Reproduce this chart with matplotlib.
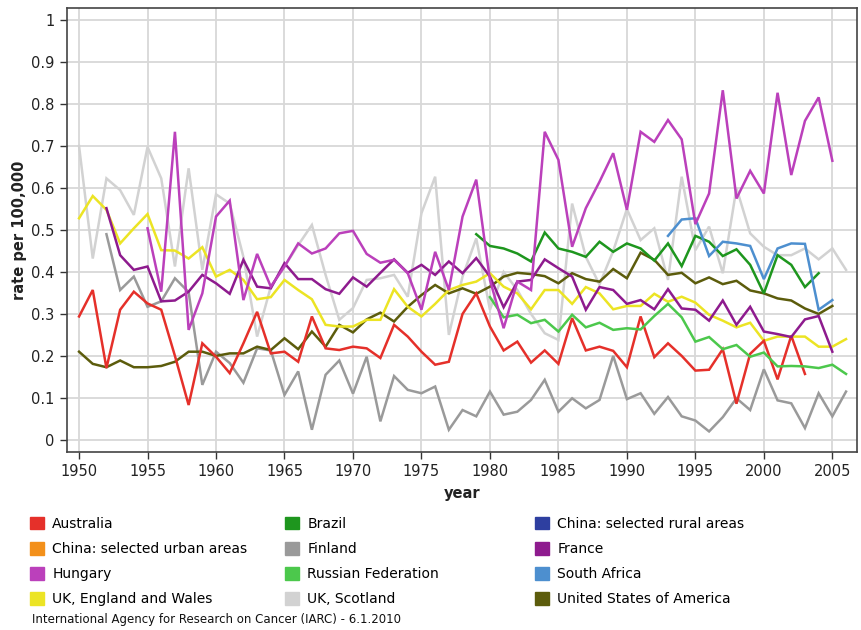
import numpy as np
import matplotlib
matplotlib.use('Agg')  # no display
import matplotlib.pyplot as plt
from matplotlib.patches import Patch

# rate per 100,000 by year
years_australia = np.arange(1950, 2004)
australia = [0.294, 0.357, 0.171, 0.31, 0.353, 0.325, 0.31, 0.20, 0.083, 0.23,
             0.198, 0.159, 0.23, 0.305, 0.206, 0.21, 0.186, 0.294, 0.218, 0.214,
             0.222, 0.218, 0.195, 0.274, 0.246, 0.21, 0.179, 0.186, 0.30, 0.349,
             0.27, 0.213, 0.234, 0.184, 0.213, 0.181, 0.29, 0.213, 0.222, 0.212,
             0.173, 0.294, 0.197, 0.23, 0.2, 0.165, 0.167, 0.216, 0.086, 0.205,
             0.236, 0.144, 0.248, 0.157]

years_brazil = np.arange(1979, 2005)
brazil = [0.49, 0.462, 0.456, 0.444, 0.425, 0.494, 0.456, 0.448, 0.436, 0.472,
          0.448, 0.468, 0.456, 0.427, 0.468, 0.414, 0.486, 0.472, 0.438, 0.454,
          0.417, 0.349, 0.44, 0.417, 0.364, 0.397]

years_finland = np.arange(1952, 2007)
finland = [0.49, 0.357, 0.389, 0.317, 0.33, 0.385, 0.352, 0.131,
           0.21, 0.183, 0.136, 0.218, 0.213, 0.107, 0.163, 0.024, 0.155, 0.189,
           0.11, 0.198, 0.044, 0.152, 0.119, 0.111, 0.127, 0.024, 0.071, 0.056,
           0.115, 0.06, 0.067, 0.095, 0.143, 0.067, 0.099, 0.075, 0.095, 0.2,
           0.097, 0.111, 0.062, 0.102, 0.056, 0.046, 0.02, 0.054, 0.099, 0.071,
           0.168, 0.094, 0.087, 0.028, 0.111, 0.056, 0.115]

years_france = np.arange(1952, 2006)
france = [0.552, 0.44, 0.405, 0.413, 0.33, 0.332, 0.353, 0.393,
          0.373, 0.348, 0.429, 0.365, 0.361, 0.421, 0.383, 0.383, 0.359, 0.348,
          0.387, 0.365, 0.398, 0.43, 0.398, 0.417, 0.393, 0.425, 0.397, 0.433,
          0.389, 0.316, 0.377, 0.381, 0.43, 0.409, 0.389, 0.31, 0.364, 0.357,
          0.324, 0.333, 0.311, 0.359, 0.313, 0.31, 0.284, 0.332, 0.274, 0.317,
          0.258, 0.252, 0.245, 0.287, 0.295, 0.21]

years_hungary = np.arange(1955, 2006)
hungary = [0.504, 0.353, 0.734, 0.262, 0.349,
           0.532, 0.57, 0.333, 0.443, 0.365, 0.413, 0.468, 0.444, 0.456, 0.492,
           0.498, 0.443, 0.422, 0.429, 0.397, 0.31, 0.448, 0.357, 0.532, 0.62,
           0.381, 0.266, 0.377, 0.357, 0.734, 0.667, 0.46, 0.552, 0.615, 0.683,
           0.548, 0.734, 0.71, 0.762, 0.716, 0.514, 0.587, 0.833, 0.575, 0.641,
           0.587, 0.827, 0.631, 0.76, 0.816, 0.665]

years_russia = np.arange(1980, 2007)
russia = [0.34, 0.292, 0.298, 0.278, 0.286, 0.258, 0.298, 0.268, 0.279, 0.262,
          0.266, 0.263, 0.295, 0.324, 0.292, 0.234, 0.245, 0.216, 0.226, 0.198,
          0.208, 0.175, 0.176, 0.175, 0.171, 0.179, 0.157]

years_south_africa = np.arange(1993, 2006)
south_africa = [0.486, 0.525, 0.528, 0.438, 0.472, 0.468, 0.462,
                0.383, 0.456, 0.468, 0.467, 0.31, 0.333]

years_uk = np.arange(1950, 2007)
uk_england_wales = [0.528, 0.581, 0.548, 0.468, 0.504, 0.538, 0.452, 0.451, 0.432, 0.459,
                    0.389, 0.405, 0.381, 0.335, 0.34, 0.381, 0.357, 0.335, 0.274, 0.27,
                    0.27, 0.286, 0.286, 0.359, 0.317, 0.294, 0.324, 0.357, 0.369, 0.377,
                    0.397, 0.365, 0.349, 0.311, 0.357, 0.357, 0.324, 0.364, 0.349, 0.311,
                    0.319, 0.319, 0.348, 0.329, 0.341, 0.327, 0.298, 0.284, 0.268, 0.279,
                    0.236, 0.246, 0.246, 0.246, 0.222, 0.222, 0.24]
uk_scotland = [0.70, 0.432, 0.623, 0.595, 0.536, 0.698, 0.623, 0.413, 0.647, 0.405,
               0.585, 0.563, 0.436, 0.246, 0.365, 0.413, 0.464, 0.512, 0.393, 0.286,
               0.314, 0.381, 0.385, 0.393, 0.341, 0.54, 0.627, 0.25, 0.389, 0.48,
               0.31, 0.40, 0.357, 0.30, 0.254, 0.238, 0.563, 0.436, 0.37, 0.45,
               0.55, 0.476, 0.504, 0.381, 0.627, 0.452, 0.508, 0.397, 0.6, 0.492,
               0.46, 0.44, 0.44, 0.456, 0.43, 0.456, 0.405]

years_usa = np.arange(1950, 2006)
usa = [0.21, 0.181, 0.173, 0.189, 0.173, 0.173, 0.176, 0.186, 0.21, 0.21,
       0.2, 0.206, 0.206, 0.222, 0.214, 0.242, 0.216, 0.258, 0.222, 0.274,
       0.256, 0.287, 0.303, 0.282, 0.317, 0.345, 0.369, 0.349, 0.361, 0.348,
       0.365, 0.389, 0.398, 0.395, 0.39, 0.373, 0.397, 0.383, 0.377, 0.407,
       0.385, 0.446, 0.429, 0.393, 0.398, 0.373, 0.387, 0.371, 0.379, 0.356,
       0.349, 0.337, 0.332, 0.313, 0.3, 0.319]

countries = ['Australia', 'Brazil', 'China: selected rural areas',
             'China: selected urban areas', 'Finland', 'France',
             'Hungary', 'Russian Federation', 'South Africa',
             'UK, England and Wales', 'UK, Scotland', 'United States of America']
colors = {
    'Australia': '#e5302a',
    'Brazil': '#1e961e',
    'China: selected rural areas': '#2e3fa0',
    'China: selected urban areas': '#f3901a',
    'Finland': '#9a9a9a',
    'France': '#8e1b8e',
    'Hungary': '#bb40bb',
    'Russian Federation': '#4cc84c',
    'South Africa': '#4d8fcf',
    'UK, England and Wales': '#ece424',
    'UK, Scotland': '#d2d2d2',
    'United States of America': '#5c5c0c',
}

series = [
    ('UK, Scotland', years_uk, uk_scotland),
    ('Finland', years_finland, finland),
    ('United States of America', years_usa, usa),
    ('UK, England and Wales', years_uk, uk_england_wales),
    ('Australia', years_australia, australia),
    ('Russian Federation', years_russia, russia),
    ('France', years_france, france),
    ('Brazil', years_brazil, brazil),
    ('South Africa', years_south_africa, south_africa),
    ('Hungary', years_hungary, hungary),
]

plt.rcParams['font.family'] = ['DejaVu Sans']

fig = plt.figure(figsize=(8.61, 6.3), dpi=100)
ax = fig.add_axes([67 / 861, 1 - 452 / 630, 790 / 861, 444 / 630])

for name, yrs, vals in series:
    ax.plot(yrs, vals, color=colors[name], lw=1.8, solid_joinstyle='miter')

ax.set_xlim(1949.12, 2006.8)
ax.set_ylim(-0.029, 1.029)
ax.set_xticks(range(1950, 2006, 5))
yt = np.round(np.arange(0, 1.01, 0.1), 1)
ax.set_yticks(yt)
ax.set_yticklabels([f'{v:g}' for v in yt])
ax.grid(color='#d8d8d8', lw=1.3)
ax.set_axisbelow(True)
for side in ['top', 'right', 'bottom', 'left']:
    ax.spines[side].set_color('#444444')
    ax.spines[side].set_linewidth(1.2)
ax.tick_params(direction='out', length=5, width=1, color='#333333',
               labelsize=10.5, labelcolor='#222222', pad=4)

ax.set_xlabel('year', fontsize=10.5, fontweight='bold', color='#222222')
ax.xaxis.set_label_coords(0.5, -(486 - 452) / 444)
ax.set_ylabel('rate per 100,000', fontsize=10.5, fontweight='bold', color='#222222')
ax.yaxis.set_label_coords(-(67 - 27) / 790, 0.5)

# legend in three columns, like the original
handles = [Patch(facecolor=colors[c], edgecolor=colors[c]) for c in countries]
col_x = [30, 285, 535]
for i, x in enumerate(col_x):
    idx = [i, i + 3, i + 6, i + 9]
    fig.legend([handles[j] for j in idx], [countries[j] for j in idx],
               loc='upper left', bbox_to_anchor=(x / 861, 1 - 517 / 630),
               bbox_transform=fig.transFigure, frameon=False, fontsize=10,
               handlelength=1.0, handleheight=1.0, handletextpad=0.6,
               labelspacing=0.8, borderpad=0, borderaxespad=0)

fig.text(32 / 861, 1 - 620 / 630,
         'International Agency for Research on Cancer (IARC) - 6.1.2010',
         fontsize=8.5, va='center', color='#111111')

fig.savefig('out.png', dpi=100, facecolor='white')
